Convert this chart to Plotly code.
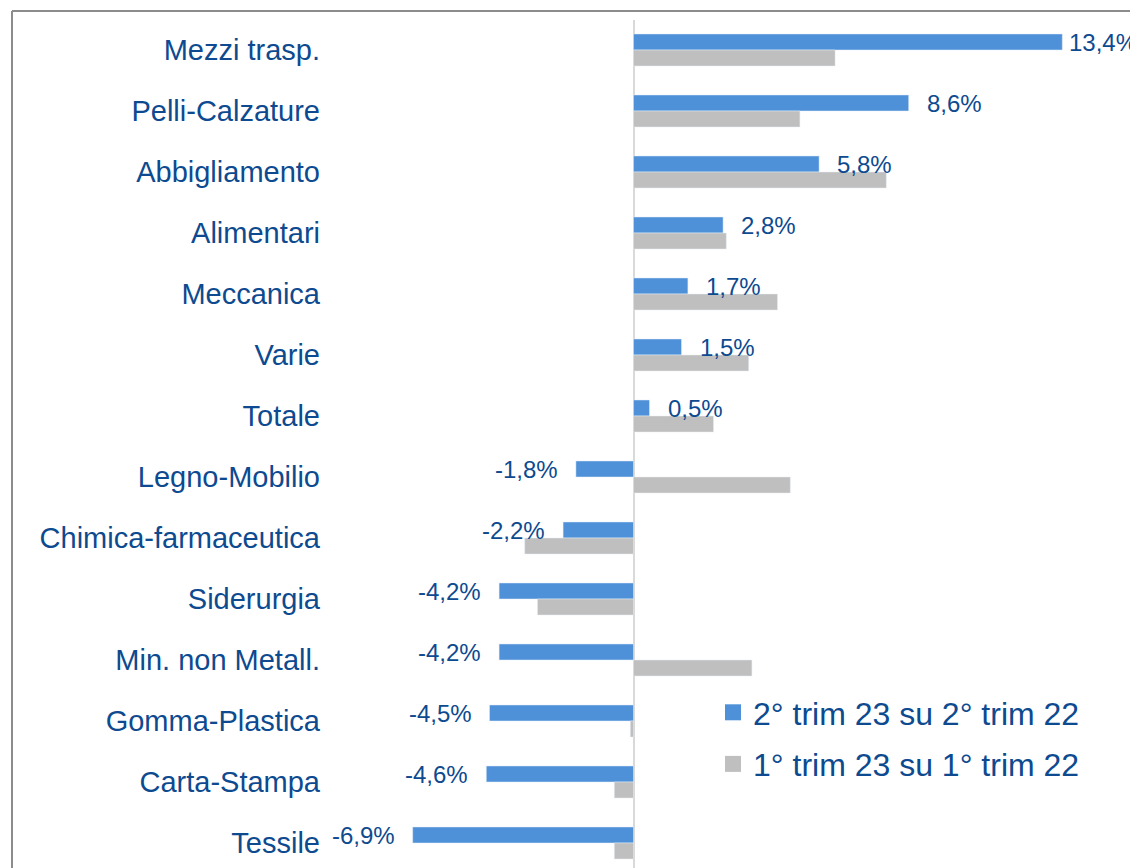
import plotly.graph_objects as go

categories = ["Mezzi trasp.", "Pelli-Calzature", "Abbigliamento", "Alimentari", "Meccanica",
              "Varie", "Totale", "Legno-Mobilio", "Chimica-farmaceutica", "Siderurgia",
              "Min. non Metall.", "Gomma-Plastica", "Carta-Stampa", "Tessile"]
q2_23 = [13.4, 8.6, 5.8, 2.8, 1.7, 1.5, 0.5, -1.8, -2.2, -4.2, -4.2, -4.5, -4.6, -6.9]
q1_23 = [6.3, 5.2, 7.9, 2.9, 4.5, 3.6, 2.5, 4.9, -3.4, -3.0, 3.7, -0.1, -0.6, -0.6]
series_names = ["2° trim 23 su 2° trim 22", "1° trim 23 su 1° trim 22"]

BLUE = "#4E91D9"
GRAY = "#BFBFBF"
TEXT = "#0D4A8F"
FONT = "Liberation Sans, Arial, sans-serif"

# page has an 8px body margin; all pixel targets are in figure coordinates (page - 8)
W, H = 1130, 860
ML, MR, MT, MB = 323, 4, 12, 0
PW, PH = W - ML - MR, H - MT - MB
ZERO_PX, PX_PER = 625.5, 32.0
x_lo = (ML - ZERO_PX) / PX_PER
x_hi = x_lo + PW / PX_PER
ROW0, ROWH = 42, 61.0
y_top = -(ROW0 - MT) / ROWH
y_bot = y_top + PH / ROWH

def xp(px):
    return (px - ML) / PW

def yp(py):
    return 1 - (py - MT) / PH

fig = go.Figure()
fig.add_trace(go.Bar(y=categories, x=q2_23, orientation="h", name=series_names[0],
                     marker=dict(color=BLUE), showlegend=False))
fig.add_trace(go.Bar(y=categories, x=q1_23, orientation="h", name=series_names[1],
                     marker=dict(color=GRAY), showlegend=False))
# legend entries (square swatches)
for nm, col, grp in zip(series_names, [BLUE, GRAY], ["a", "b"]):
    fig.add_trace(go.Scatter(x=[None], y=[None], mode="markers", name=nm, legendgroup=grp,
                             marker=dict(symbol="square", size=16, color=col), hoverinfo="skip"))

vmax = max(q2_23)
for c, v in zip(categories, q2_23):
    txt = f"{v:.1f}%".replace(".", ",")
    if v >= 0:
        shift = 5 if v == vmax else 16
        fig.add_annotation(x=v, y=c, text=txt, showarrow=False, xanchor="left",
                           xshift=shift, yshift=8, font=dict(size=24, color=TEXT, family=FONT))
    else:
        fig.add_annotation(x=v, y=c, text=txt, showarrow=False, xanchor="right",
                           xshift=-16, yshift=8, font=dict(size=24, color=TEXT, family=FONT))

# outer frame (top and left edges visible)
fig.add_shape(type="line", xref="paper", yref="paper", x0=xp(4), x1=xp(1200), y0=yp(3), y1=yp(3),
              line=dict(color="#8C8C8C", width=2))
fig.add_shape(type="line", xref="paper", yref="paper", x0=xp(4), x1=xp(4), y0=yp(3), y1=yp(900),
              line=dict(color="#8C8C8C", width=2))

fig.update_layout(
    width=W, height=H,
    margin=dict(l=ML, r=MR, t=MT, b=MB, pad=0),
    paper_bgcolor="white", plot_bgcolor="white",
    barmode="group", bargap=0.475, bargroupgap=0,
    font=dict(family=FONT, color=TEXT),
    legend=dict(x=xp(705), y=yp(677), xanchor="left", yanchor="top",
                font=dict(size=32, color=TEXT, family=FONT), tracegroupgap=7,
                bgcolor="rgba(0,0,0,0)"),
    xaxis=dict(range=[x_lo, x_hi], showgrid=False, showticklabels=False, zeroline=True,
               zerolinecolor="#D9D9D9", zerolinewidth=2, showline=False, fixedrange=True),
    yaxis=dict(range=[y_bot, y_top], showgrid=False, tickfont=dict(size=29, color=TEXT, family=FONT),
               ticklabelstandoff=10, showline=False, zeroline=False, fixedrange=True),
)

fig.write_html("out.html")
